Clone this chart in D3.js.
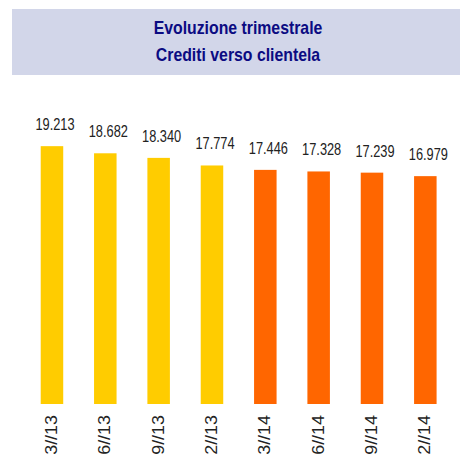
<!DOCTYPE html>
<html>
<head>
<meta charset="utf-8">
<script src="https://cdn.jsdelivr.net/npm/d3@7"></script>
<style>
  body { margin: 0; background: #fff; }
  svg { display: block; }
</style>
</head>
<body>
<div id="viz"></div>
<script>
// quarterly values (migliaia)
var quarters = ["3//13", "6//13", "9//13", "2//13", "3//14", "6//14", "9//14", "2//14"];
var values = [19213, 18682, 18340, 17774, 17446, 17328, 17239, 16979];
var years = ["2013", "2013", "2013", "2013", "2014", "2014", "2014", "2014"];
var titleLines = ["Evoluzione trimestrale", "Crediti verso clientela"];

var width = 460, height = 456;
var font = "'Liberation Sans', Arial, sans-serif";

var svg = d3.select("#viz").append("svg")
    .attr("width", width)
    .attr("height", height);

// title box
svg.append("rect")
    .attr("x", 12).attr("y", 9)
    .attr("width", 448).attr("height", 66)
    .attr("fill", "#d2d6e9");

// no condensed font installed, so squeeze text horizontally
svg.selectAll("text.title")
    .data(titleLines)
  .enter().append("text")
    .attr("class", "title")
    .attr("transform", function(d, i) {
      return "translate(238," + (34 + i * 27) + ") scale(0.855,1)";
    })
    .attr("text-anchor", "middle")
    .attr("font-family", font)
    .attr("font-weight", "bold")
    .attr("font-size", 18.5)
    .attr("fill", "#0b0b82")
    .text(function(d) { return d; });

var x = d3.scaleBand()
    .domain(quarters.map(function(d, i) { return i; }))
    .range([25.3, 452])
    .paddingInner(0.578)
    .paddingOuter(0.289);

var y = d3.scaleLinear()
    .domain([0, 20000])
    .range([404, 135.6]);

var color = d3.scaleOrdinal()
    .domain(["2013", "2014"])
    .range(["#ffcc00", "#ff6600"]);

var fmt = d3.format(",");
function label(v) { return fmt(v).replace(",", "."); }

svg.selectAll("rect.bar")
    .data(values)
  .enter().append("rect")
    .attr("class", "bar")
    .attr("x", function(d, i) { return x(i); })
    .attr("y", function(d) { return y(d); })
    .attr("width", x.bandwidth())
    .attr("height", function(d) { return y(0) - y(d); })
    .attr("fill", function(d, i) { return color(years[i]); });

svg.selectAll("text.value")
    .data(values)
  .enter().append("text")
    .attr("class", "value")
    .attr("transform", function(d, i) {
      return "translate(" + (x(i) + x.bandwidth() / 2 + 3) + "," + (y(d) - 16) + ") scale(0.8,1)";
    })
    .attr("text-anchor", "middle")
    .attr("font-family", font)
    .attr("font-size", 16)
    .attr("fill", "#222")
    .text(label);

svg.selectAll("text.tick")
    .data(quarters)
  .enter().append("text")
    .attr("class", "tick")
    .attr("transform", function(d, i) {
      return "translate(" + (x(i) + x.bandwidth() / 2 + 5) + ",415) rotate(-90) scale(1.12,1)";
    })
    .attr("text-anchor", "end")
    .attr("font-family", font)
    .attr("font-size", 16)
    .attr("fill", "#222")
    .text(function(d) { return d; });
</script>
</body>
</html>
